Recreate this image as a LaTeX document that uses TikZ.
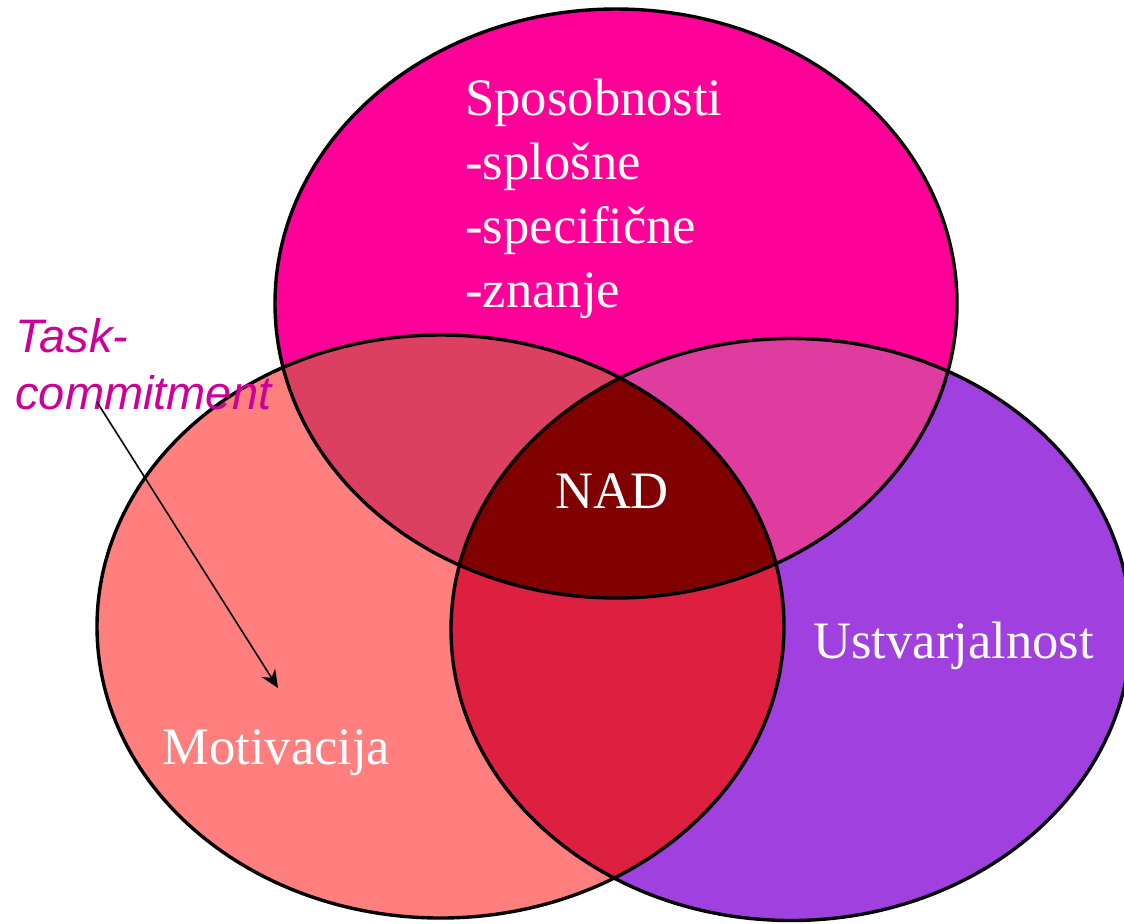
\documentclass[tikz,border=0pt]{standalone}
\usepackage{fontspec}
\setmainfont{Liberation Serif}
\setsansfont{Liberation Sans}
\usetikzlibrary{arrows.meta, positioning}
\definecolor{sposcol}{HTML}{FF0099}
\definecolor{motcol}{HTML}{FF7F7F}
\definecolor{ustcol}{HTML}{A040DF}
\definecolor{spmcol}{HTML}{DC4060}
\definecolor{spucol}{HTML}{DE3C9E}
\definecolor{mucol}{HTML}{DE2040}
\definecolor{nadcol}{HTML}{800000}
\definecolor{taskcol}{HTML}{CC0099}
\tikzset{
         myell/.style={draw=black, line width=1.7pt},
         mylabel/.style={text=white, inner sep=0pt, font=\fontsize{26.3}{32}\selectfont},
         mytask/.style={text=taskcol, inner sep=0pt, align=left, font=\sffamily\itshape\fontsize{23.5}{28.5}\selectfont},
         myarrow/.style={draw, line width=.8pt, -{Stealth[length=9pt, width=8pt]}}
      }
\begin{document}
\begin{tikzpicture}[x=0.5pt, y=-0.5pt]
   \useasboundingbox (0,0) rectangle (1124,923);
   % the three sets
   \fill[motcol] (440.5,626.5) ellipse [x radius=343.5, y radius=291.5];
   \fill[ustcol] (791,629.5) ellipse [x radius=340, y radius=291];
   \fill[sposcol] (616,303.5) ellipse [x radius=341, y radius=294.5];
   % overlaps
   \begin{scope}
      \clip (440.5,626.5) ellipse [x radius=343.5, y radius=291.5];
      \fill[mucol] (791,629.5) ellipse [x radius=340, y radius=291];
   \end{scope}
   \begin{scope}
      \clip (616,303.5) ellipse [x radius=341, y radius=294.5];
      \fill[spmcol] (440.5,626.5) ellipse [x radius=343.5, y radius=291.5];
      \fill[spucol] (791,629.5) ellipse [x radius=340, y radius=291];
      \clip (440.5,626.5) ellipse [x radius=343.5, y radius=291.5];
      \fill[nadcol] (791,629.5) ellipse [x radius=340, y radius=291];
   \end{scope}
   % outlines
   \draw[myell] (440.5,626.5) ellipse [x radius=343.5, y radius=291.5];
   \draw[myell] (791,629.5) ellipse [x radius=340, y radius=291];
   \draw[myell] (616,303.5) ellipse [x radius=341, y radius=294.5];
   % labels (base = last line)
   \node[mylabel, anchor=base west, align=left] (spos) at (465,307) {Sposobnosti\\-splošne\\-specifične\\-znanje};
   \node[mylabel, anchor=base] (nad) at (612,508) {NAD};
   \node[mylabel, anchor=base west] (ust) at (813,658) {Ustvarjalnost};
   \node[mylabel, anchor=base west] (mot) at (162,764) {Motivacija};
   \node[mytask, anchor=base west] (task) at (15,409) {Task-\\commitment};
   \coordinate (tc-start) at (97,402);
   \coordinate (tc-end) at (278,688);
   \path[myarrow] (tc-start) -- (tc-end);
\end{tikzpicture}
\end{document}
